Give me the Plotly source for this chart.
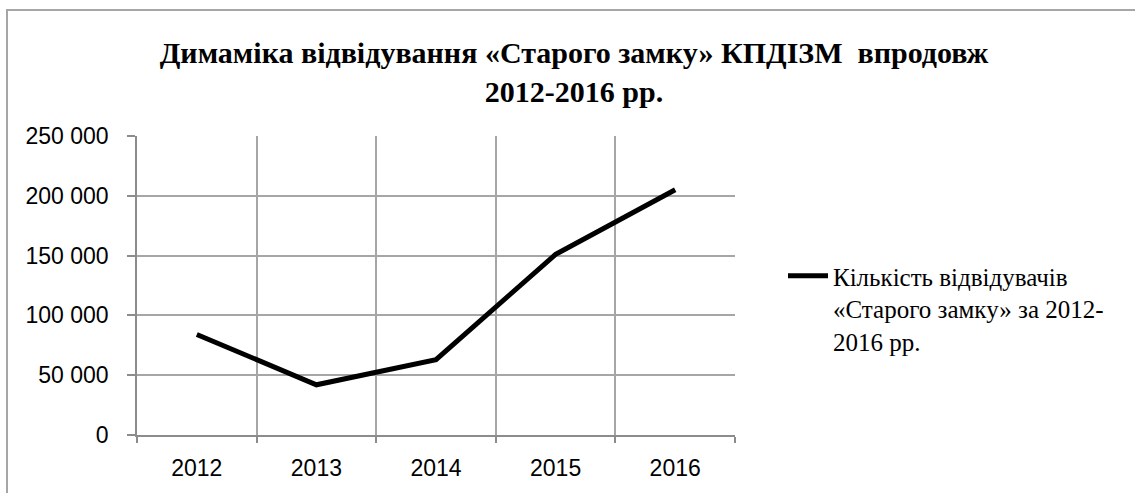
import plotly.graph_objects as go

years = ["2012", "2013", "2014", "2015", "2016"]
visitors = [84000, 42000, 63000, 151000, 205000]
series_name = "Кількість відвідувачів<br>«Старого замку» за 2012-<br>2016 рр."
title_text = "<b>Димаміка відвідування «Старого замку» КПДІЗМ  впродовж<br>2012-2016 рр.</b>"
y_ticks = [0, 50000, 100000, 150000, 200000, 250000]

fig = go.Figure()
fig.add_trace(go.Scatter(
    x=years, y=visitors, mode="lines", name=series_name,
    line=dict(color="black", width=5), showlegend=True,
))

W, H = 1135, 493
L, R, T, B = 137, 400, 136, 58
pw, ph = W - L - R, H - T - B

def px_x(p):
    return (p - L) / pw

def px_y(p):
    return (H - B - p) / ph

fig.update_layout(
    width=W, height=H,
    margin=dict(l=L, r=R, t=T, b=B),
    paper_bgcolor="white", plot_bgcolor="white",
    separators=", ",
    title=dict(text=title_text, x=574 / W, xanchor="center", y=0.872, yanchor="top",
               font=dict(family="Liberation Serif", size=30, color="black")),
    legend=dict(x=px_x(783), xanchor="left", y=px_y(253), yanchor="top",
                font=dict(family="Liberation Serif", size=25, color="black"),
                valign="top", bgcolor="rgba(0,0,0,0)", itemwidth=40),
    xaxis=dict(type="category", range=[-0.5, 4.5], tickson="boundaries",
               showgrid=True, gridcolor="#A6A6A6", gridwidth=1.5,
               showline=True, linecolor="#8C8C8C", linewidth=1.5,
               ticks="outside", ticklen=6, tickcolor="#8C8C8C", tickwidth=1.5,
               tickfont=dict(family="Liberation Sans", size=23, color="black"),
               ticklabelstandoff=12),
    yaxis=dict(range=[0, 250000], tickvals=y_ticks, tickformat=",d",
               showgrid=True, gridcolor="#A6A6A6", gridwidth=1.5,
               showline=True, linecolor="#8C8C8C", linewidth=1.5,
               ticks="outside", ticklen=8, tickcolor="#8C8C8C", tickwidth=1.5,
               tickfont=dict(family="Liberation Sans", size=23, color="black"),
               ticklabelstandoff=14, zeroline=False),
    shapes=[dict(type="rect", xref="paper", yref="paper",
                 x0=px_x(7), x1=px_x(1200), y0=px_y(560), y1=px_y(10),
                 line=dict(color="#A6A6A6", width=2), fillcolor="rgba(0,0,0,0)")],
)

fig.write_html("out.html", config={"displayModeBar": False},
               post_script="document.body.style.margin='0';document.body.style.overflow='hidden';")
